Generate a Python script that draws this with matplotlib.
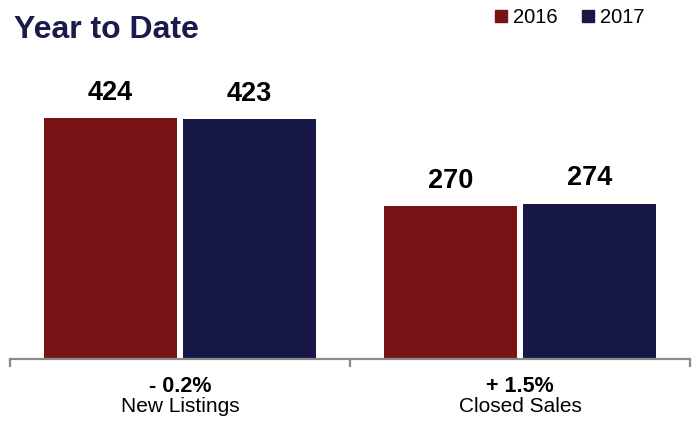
import matplotlib.pyplot as plt
from matplotlib.patches import Patch

# data
categories = ['New Listings', 'Closed Sales']
changes = ['- 0.2%', '+ 1.5%']
years = ['2016', '2017']
values_2016 = [424, 270]
values_2017 = [423, 274]

RED = '#771315'
NAVY = '#171846'
GREY = '#8a8a8a'

plt.rcParams['font.family'] = ['Liberation Sans', 'DejaVu Sans']

fig = plt.figure(figsize=(6.96, 4.28), dpi=100)
ax = fig.add_axes([10 / 696, 69 / 428, 680 / 696, 299 / 428])

x = list(range(len(categories)))
w = 0.392
off = 0.205
b1 = ax.bar([i - off for i in x], values_2016, width=w, color=RED)
b2 = ax.bar([i + off for i in x], values_2017, width=w, color=NAVY)

for bars, vals in [(b1, values_2016), (b2, values_2017)]:
    for bar, v in zip(bars, vals):
        ax.annotate(str(v), (bar.get_x() + bar.get_width() / 2, v),
                    xytext=(0, 13), textcoords='offset points',
                    ha='center', va='baseline', fontsize=19.5, fontweight='bold')

ax.set_xlim(-0.5, len(categories) - 0.5)
ax.set_ylim(0, 527)
ax.set_yticks([])
for side in ['left', 'top', 'right']:
    ax.spines[side].set_visible(False)
ax.spines['bottom'].set_color(GREY)
ax.spines['bottom'].set_linewidth(1.6)
ax.set_xticks([-0.5, 0.5, 1.5])
ax.set_xticklabels([])
ax.tick_params(axis='x', direction='out', length=6, width=1.6, color=GREY)

for i, (cat, ch) in enumerate(zip(categories, changes)):
    ax.annotate(ch, (i, 0), xycoords=('data', 'axes fraction'),
                xytext=(0, -20), textcoords='offset points',
                ha='center', va='center', fontsize=15.5, fontweight='bold')
    ax.annotate(cat, (i, 0), xycoords=('data', 'axes fraction'),
                xytext=(0, -34), textcoords='offset points',
                ha='center', va='center', fontsize=15)

fig.text(14 / 696, 1 - 38 / 428, 'Year to Date', fontsize=23, fontweight='bold',
         color='#1b1b4b', va='baseline')

handles = [Patch(color=RED, label=years[0]), Patch(color=NAVY, label=years[1])]
fig.legend(handles=handles, loc='center left', bbox_to_anchor=(495 / 696, 1 - 17.5 / 428),
           ncol=2, frameon=False, fontsize=14.5, handlelength=0.6, handleheight=0.6,
           handletextpad=0.3, columnspacing=1.2, borderpad=0, borderaxespad=0)

fig.savefig('out.png', dpi=100)
